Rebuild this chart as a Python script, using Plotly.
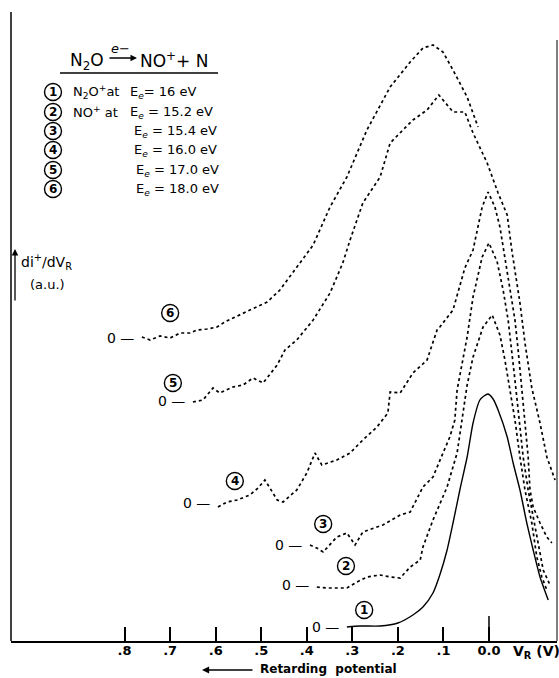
import plotly.graph_objects as go

# ---------------- data (V_R in volts, signal in a.u. above each curve's zero) ----------------
v1 = [0.312, 0.283, 0.239, 0.200, 0.167, 0.145, 0.123, 0.108, 0.092, 0.079, 0.064, 0.048, 0.035, 0.020, 0.011, 0.002,
      -0.009, -0.020, -0.040, -0.053, -0.068, -0.083, -0.097, -0.112, -0.130]
s1 = [0.00, 0.01, 0.01, 0.04, 0.12, 0.20, 0.34, 0.52, 0.77, 1.04, 1.37, 1.70, 2.04, 2.27, 2.31, 2.33,
      2.28, 2.17, 1.90, 1.64, 1.37, 1.04, 0.77, 0.50, 0.27]

v2 = [0.378, 0.356, 0.334, 0.312, 0.290, 0.268, 0.239, 0.217, 0.195, 0.173, 0.151, 0.145, 0.123, 0.092, 0.070,
      0.059, 0.048, 0.035, 0.013, -0.007, -0.024, -0.035, -0.046, -0.057, -0.068, -0.079, -0.094, -0.105, -0.116, -0.127]
s2 = [-0.02, -0.03, -0.03, -0.03, 0.03, 0.08, 0.10, 0.08, 0.07, 0.18, 0.25, 0.38, 0.65, 0.98, 1.32,
      1.65, 2.00, 2.28, 2.58, 2.70, 2.50, 2.25, 1.95, 1.65, 1.28, 0.95, 0.62, 0.28, 0.08, -0.05]

v3 = [0.393, 0.378, 0.364, 0.349, 0.334, 0.312, 0.294, 0.277, 0.233, 0.195, 0.173, 0.145, 0.123, 0.101, 0.086,
      0.075, 0.070, 0.048, 0.035, 0.015, 0.000, -0.018, -0.031, -0.042, -0.050, -0.057, -0.064, -0.075, -0.086,
      -0.097, -0.108, -0.119, -0.134]
s3 = [0.00, -0.03, -0.07, 0.00, 0.08, 0.12, 0.00, 0.13, 0.20, 0.30, 0.33, 0.58, 0.68, 0.92, 1.08,
      1.25, 1.55, 2.08, 2.48, 2.88, 3.02, 2.83, 2.55, 2.25, 1.95, 1.65, 1.35, 0.88, 0.55,
      0.28, -0.02, -0.25, -0.40]

v4 = [0.595, 0.575, 0.553, 0.536, 0.525, 0.507, 0.492, 0.481, 0.465, 0.452, 0.422, 0.400, 0.382, 0.367, 0.334,
      0.305, 0.277, 0.246, 0.222, 0.217, 0.195, 0.167, 0.136, 0.114, 0.108, 0.079, 0.053, 0.035, 0.015, 0.002,
      -0.013, -0.024, -0.035, -0.046, -0.057, -0.064, -0.072, -0.079, -0.086, -0.090, -0.097, -0.112, -0.127, -0.138]
s4 = [-0.04, 0.01, 0.03, 0.06, 0.08, 0.15, 0.23, 0.15, 0.03, 0.01, 0.13, 0.30, 0.50, 0.38, 0.43,
      0.50, 0.63, 0.76, 0.90, 1.11, 1.10, 1.30, 1.43, 1.73, 1.76, 1.93, 2.35, 2.53, 2.96, 3.11,
      2.96, 2.76, 2.46, 2.16, 1.83, 1.53, 1.13, 0.80, 0.46, 0.13, -0.04, -0.20, -0.34, -0.40]

v5 = [0.650, 0.628, 0.606, 0.591, 0.562, 0.540, 0.518, 0.496, 0.465, 0.448, 0.422, 0.386, 0.349, 0.321, 0.305,
      0.277, 0.239, 0.217, 0.189, 0.167, 0.136, 0.110, 0.079, 0.053, 0.035, 0.004, -0.020, -0.040, -0.050,
      -0.059, -0.068, -0.079, -0.094, -0.112, -0.127, -0.145]
s5 = [-0.01, 0.01, 0.13, 0.08, 0.14, 0.16, 0.23, 0.18, 0.36, 0.51, 0.61, 0.81, 1.08, 1.38, 1.61,
      1.98, 2.24, 2.58, 2.71, 2.81, 2.91, 3.06, 2.89, 2.89, 2.68, 2.38, 2.08, 1.86, 1.51,
      1.26, 0.98, 0.58, 0.13, -0.22, -0.56, -0.79]

v6 = [0.762, 0.744, 0.722, 0.700, 0.678, 0.656, 0.641, 0.619, 0.597, 0.580, 0.562, 0.525, 0.487, 0.459, 0.422,
      0.386, 0.349, 0.312, 0.268, 0.217, 0.173, 0.145, 0.123, 0.101, 0.079, 0.048, 0.024]
s6 = [0.01, -0.02, 0.02, 0.00, 0.05, 0.05, 0.08, 0.09, 0.11, 0.16, 0.20, 0.28, 0.36, 0.48, 0.71,
      0.93, 1.31, 1.61, 2.08, 2.51, 2.76, 2.90, 2.93, 2.86, 2.68, 2.41, 2.11]

curve_v = [v1, v2, v3, v4, v5, v6]
curve_s = [s1, s2, s3, s4, s5, s6]
curve_zero = [0.14, 0.56, 0.96, 1.38, 2.40, 3.03]          # vertical offset of each curve's zero (a.u.)
curve_tag = ["1", "2", "3", "4", "5", "6"]
tag_v = [0.274, 0.314, 0.364, 0.558, 0.694, 0.700]
tag_s = [0.31, 0.75, 1.17, 1.60, 2.58, 3.28]

tick_vals = [0.8, 0.7, 0.6, 0.5, 0.4, 0.3, 0.2, 0.1, 0.0]
tick_text = [".8", ".7", ".6", ".5", ".4", ".3", ".2", ".1", "0.0"]

legend_tags = ["1", "2", "3", "4", "5", "6"]
legend_ion = ["N<sub>2</sub>O<sup>+</sup>at", "NO<sup>+</sup> at", "", "", "", ""]
legend_energy = ["E<sub><i>e</i></sub>= 16 eV", "E<sub><i>e</i></sub> = 15.2 eV", "E<sub><i>e</i></sub> = 15.4 eV",
                 "E<sub><i>e</i></sub> = 16.0 eV", "E<sub><i>e</i></sub> = 17.0 eV", "E<sub><i>e</i></sub> = 18.0 eV"]

# ---------------- layout geometry ----------------
W, H = 559, 678
ML, MR, MT, MB = 11, 2, 0, 37
PW, PH = W - ML - MR, H - MT - MB
X_RANGE = [1.0494, -0.1493]
Y_RANGE = [0.0, 6.41]


def px(xp):
    return (xp - ML) / PW


def py(yp):
    return (H - MB - yp) / PH


FONT = "DejaVu Sans, sans-serif"
fig = go.Figure()

for i in range(6):
    y = [curve_zero[i] + s for s in curve_s[i]]
    if i == 0:
        line = dict(color="black", width=1.4, shape="spline", smoothing=0.6)
    else:
        line = dict(color="black", width=1.7, dash="dot")
    fig.add_trace(go.Scatter(x=curve_v[i], y=y, mode="lines", line=line,
                             hoverinfo="skip", showlegend=False))

annotations = []
shapes = []
R = 8.5  # circle radius in px


def circled(xv, yv, label, xref, yref):
    shapes.append(dict(type="circle", xref=xref, yref=yref, xsizemode="pixel", ysizemode="pixel",
                       xanchor=xv, yanchor=yv, x0=-R, x1=R, y0=-R, y1=R,
                       line=dict(color="black", width=1.4)))
    annotations.append(dict(x=xv, y=yv, xref=xref, yref=yref, text=label, showarrow=False,
                            xanchor="center", yanchor="middle", yshift=0,
                            font=dict(family=FONT, size=12, color="black", weight="bold")))


# zero markers and curve tags
for i in range(6):
    annotations.append(dict(x=curve_v[i][0], y=curve_zero[i], xref="x", yref="y", text="0 —",
                            showarrow=False, xanchor="right", yanchor="middle", xshift=-6,
                            font=dict(family=FONT, size=14, color="black")))
    circled(tag_v[i], tag_s[i], curve_tag[i], "x", "y")

# longer zero tick at V_R = 0
shapes.append(dict(type="line", xref="x", yref="y", x0=0, x1=0, y0=0, y1=0.25,
                   line=dict(color="black", width=1.5)))
# left border line
shapes.append(dict(type="line", xref="paper", yref="paper", x0=px(11), x1=px(11), y0=py(12), y1=py(641),
                   line=dict(color="black", width=1.5)))
# right border line
shapes.append(dict(type="line", xref="paper", yref="paper", x0=px(557), x1=px(557), y0=py(40), y1=py(641),
                   line=dict(color="black", width=1)))
# title underline
shapes.append(dict(type="line", xref="paper", yref="paper", x0=px(60), x1=px(218), y0=py(73), y1=py(73),
                   line=dict(color="black", width=1.3)))

# title reaction
annotations.append(dict(x=px(106), y=py(61), xref="paper", yref="paper", text="N<sub>2</sub>O",
                        showarrow=False, xanchor="right", yanchor="middle",
                        font=dict(family=FONT, size=17, color="black")))
annotations.append(dict(x=px(137), y=py(58), xref="paper", yref="paper", text="",
                        showarrow=True, ax=-29, ay=0, axref="pixel", ayref="pixel",
                        arrowhead=2, arrowsize=1, arrowwidth=1.3, arrowcolor="black"))
annotations.append(dict(x=px(120), y=py(48), xref="paper", yref="paper", text="<i>e</i>−",
                        showarrow=False, xanchor="center", yanchor="middle",
                        font=dict(family=FONT, size=13, color="black")))
annotations.append(dict(x=px(138), y=py(60), xref="paper", yref="paper", text="NO<sup>+</sup>+ N",
                        showarrow=False, xanchor="left", yanchor="middle",
                        font=dict(family=FONT, size=17, color="black")))

# legend rows
row_y = [92, 112, 131, 150, 170, 189]
energy_x = [128, 128, 132, 132, 134, 134]
for i in range(6):
    circled(px(53), py(row_y[i]), legend_tags[i], "paper", "paper")
    if legend_ion[i]:
        annotations.append(dict(x=px(71), y=py(row_y[i]), xref="paper", yref="paper", text=legend_ion[i],
                                showarrow=False, xanchor="left", yanchor="middle",
                                font=dict(family=FONT, size=13, color="black")))
    annotations.append(dict(x=px(energy_x[i]), y=py(row_y[i]), xref="paper", yref="paper",
                            text=legend_energy[i], showarrow=False, xanchor="left", yanchor="middle",
                            font=dict(family=FONT, size=13, color="black")))

# y-axis label with arrow
annotations.append(dict(x=px(15), y=py(249), xref="paper", yref="paper", text="",
                        showarrow=True, ax=0, ay=53, axref="pixel", ayref="pixel",
                        arrowhead=2, arrowsize=1, arrowwidth=1.3, arrowcolor="black"))
annotations.append(dict(x=px(19), y=py(262), xref="paper", yref="paper", text="di<sup>+</sup>/dV<sub>R</sub>",
                        showarrow=False, xanchor="left", yanchor="middle",
                        font=dict(family=FONT, size=14, color="black")))
annotations.append(dict(x=px(28), y=py(284), xref="paper", yref="paper", text="(a.u.)",
                        showarrow=False, xanchor="left", yanchor="middle",
                        font=dict(family=FONT, size=13, color="black")))

# x-axis unit and direction label
annotations.append(dict(x=px(511), y=py(652), xref="paper", yref="paper", text="V<sub>R</sub> (V)",
                        showarrow=False, xanchor="left", yanchor="middle",
                        font=dict(family=FONT, size=14, color="black", weight="bold")))
annotations.append(dict(x=px(202), y=py(670), xref="paper", yref="paper", text="",
                        showarrow=True, ax=52, ay=0, axref="pixel", ayref="pixel",
                        arrowhead=2, arrowsize=1.1, arrowwidth=1.3, arrowcolor="black"))
annotations.append(dict(x=px(258), y=py(669), xref="paper", yref="paper", text="Retarding  potential",
                        showarrow=False, xanchor="left", yanchor="middle",
                        font=dict(family=FONT, size=12, color="black", weight="bold")))

fig.update_layout(
    width=W, height=H,
    margin=dict(l=ML, r=MR, t=MT, b=MB, pad=0),
    paper_bgcolor="white", plot_bgcolor="white",
    showlegend=False,
    xaxis=dict(range=X_RANGE, showgrid=False, zeroline=False, showline=True, linecolor="black", linewidth=2,
               ticks="inside", ticklen=14, tickwidth=1.5, tickcolor="black",
               tickvals=tick_vals, ticktext=tick_text, ticklabelstandoff=-4,
               tickfont=dict(family=FONT, size=13, color="black", weight="bold"), fixedrange=True),
    yaxis=dict(range=Y_RANGE, showgrid=False, zeroline=False, showline=False, showticklabels=False,
               ticks="", fixedrange=True),
    annotations=annotations,
    shapes=shapes,
)

fig.write_html("out.html")
